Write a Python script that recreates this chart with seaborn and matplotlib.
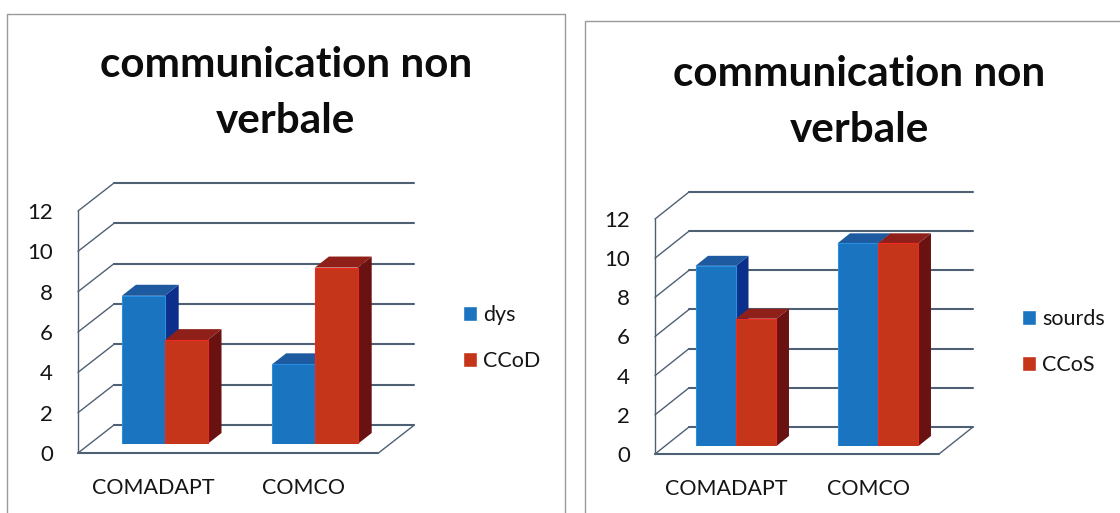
import pandas as pd
import seaborn as sns
from matplotlib import pyplot as plt
from matplotlib.lines import Line2D
from matplotlib.patches import Polygon
from matplotlib.transforms import Affine2D

categories = ["COMADAPT", "COMCO"]
title = "communication non\nverbale"
y_ticks = [0, 2, 4, 6, 8, 10, 12]

left_names = ["dys", "CCoD"]
left_blue = [7.35, 3.95]
left_red = [5.15, 8.75]

right_names = ["sourds", "CCoS"]
right_blue = [9.2, 10.35]
right_red = [6.5, 10.35]

W, H = 1120, 513
BLUE = "#1a74c0"
RED = "#c5351a"
WALL = "#4f6074"


def make_df(names, blue, red):
    return pd.DataFrame({
        "cat": categories * 2,
        "group": [names[0]] * 2 + [names[1]] * 2,
        "value": blue + red,
    })


def faces(ax, patch, dx, dy, side_col, top_col, z):
    # depth faces of one bar, worked out from where the bar landed on screen
    x0, y0, w, h = patch.get_x(), patch.get_y(), patch.get_width(), patch.get_height()
    (px0, py0), (px1, py1) = ax.transData.transform([(x0, y0), (x0 + w, y0 + h)])
    side = [(px1, py0), (px1 + dx, py0 + dy), (px1 + dx, py1 + dy), (px1, py1)]
    top = [(px0, py1), (px0 + dx, py1 + dy), (px1 + dx, py1 + dy), (px1, py1)]
    ax.add_patch(Polygon(side, transform=None, fc=side_col, ec="none", zorder=z, clip_on=False))
    ax.add_patch(Polygon(top, transform=None, fc=top_col, ec="none", zorder=z, clip_on=False))


def panel(fig, box, df, back, front, depth, title_pos, legend_pos):
    left, right, bottom, top = box
    ax = fig.add_axes([left / W, 1 - bottom / H, (right - left) / W, (bottom - top) / H])
    sns.barplot(data=df, x="cat", y="value", hue="group", palette=[BLUE, RED],
                width=0.57, gap=0, saturation=1, ax=ax)
    ax.set_xlim(-0.5, 1.5)
    ax.set_ylim(0, 12)
    ax.patch.set_visible(False)
    sns.despine(ax=ax, left=True, bottom=True)
    ax.set_xlabel("")
    ax.set_ylabel("")
    ax.set_yticks(y_ticks)
    ax.tick_params(axis="x", length=0, labelsize=15.5, labelcolor="#151515", pad=18)
    ax.tick_params(axis="y", length=0, labelsize=16, labelcolor="#151515", pad=18)

    to_back = ax.transData + Affine2D().translate(*back)
    to_front = ax.transData + Affine2D().translate(*front)
    for lab in ax.get_yticklabels() + ax.get_xticklabels():
        lab.set_transform(lab.get_transform() + Affine2D().translate(*front))

    # walls and floor behind the bars
    for v in y_ticks:
        (fx, fy), (bx, by), (ex, ey) = (to_front.transform((-0.5, v)), to_back.transform((-0.5, v)),
                                        to_back.transform((1.5, v)))
        ax.add_line(Line2D([bx, ex], [by, ey], transform=None, color=WALL, lw=1.5, zorder=0.5, clip_on=False))
        ax.add_line(Line2D([fx, bx], [fy, by], transform=None, color=WALL, lw=1.0, zorder=0.5, clip_on=False))
    ax.plot([-0.5, -0.5], [0, 12], transform=to_front, color=WALL, lw=1.0, zorder=0.5, clip_on=False)
    ax.plot([-0.5, 1.5], [0, 0], transform=to_front, color=WALL, lw=1.5, zorder=0.5, clip_on=False)
    (rx, ry), (sx, sy) = to_front.transform((1.5, 0)), to_back.transform((1.5, 0))
    ax.add_line(Line2D([rx, sx], [ry, sy], transform=None, color=WALL, lw=1.0, zorder=0.5, clip_on=False))

    # blue then red inside each group, so red hides the blue side face
    bars = [p for c in ax.containers for p in c]
    blues, reds = bars[:2], bars[2:4]
    for i in range(2):
        for p, side_col, top_col, edge, z in [(blues[i], "#0c2f8c", "#1d5a9f", "#2a8fe0", 2 + i * 4),
                                              (reds[i], "#6a1212", "#8e2019", "#ee2a20", 4 + i * 4)]:
            faces(ax, p, depth[0], depth[1], side_col, top_col, z)
            p.set_zorder(z + 1)
            p.set_edgecolor(edge)
            p.set_linewidth(0.8)

    sns.move_legend(ax, "center left", bbox_to_anchor=(legend_pos[0] / W, 1 - legend_pos[1] / H),
                    bbox_transform=fig.transFigure, title=None, frameon=False, fontsize=15.5,
                    handlelength=0.65, handleheight=0.65, handletextpad=0.3, labelspacing=1.2,
                    borderpad=0, borderaxespad=0)
    for t in ax.get_legend().get_texts():
        t.set_color("#151515")

    fig.text(title_pos[0] / W, 1 - title_pos[1] / H, title, ha="center", va="center",
             fontsize=30.4, fontweight="bold", linespacing=1.56, color="#0c0c0c")


sns.set_theme(style="white")
plt.rcParams["font.family"] = ["Lato", "DejaVu Sans"]

fig = plt.figure(figsize=(W / 100, H / 100), dpi=100, facecolor="white")

panel(fig, (89.6, 390, 444, 202), make_df(left_names, left_blue, left_red),
      (24.4, 19), (-11.6, -9), (14, 11), (286, 93), (463, 338))
panel(fig, (665, 949, 446, 211), make_df(right_names, right_blue, right_red),
      (24, 19), (-10, -8), (12.5, 10), (859, 102), (1022, 342))

# panel frames, cut by the edge of the page
frame = "#9a9a9a"
for xs, ys in [([7, 7, 565, 565], [513, 14, 14, 513]), ([585, 585, 1120], [513, 21, 21])]:
    fig.add_artist(Line2D([x / W for x in xs], [1 - y / H for y in ys], color=frame, lw=1.0))

plt.savefig("out.png", dpi=100)
